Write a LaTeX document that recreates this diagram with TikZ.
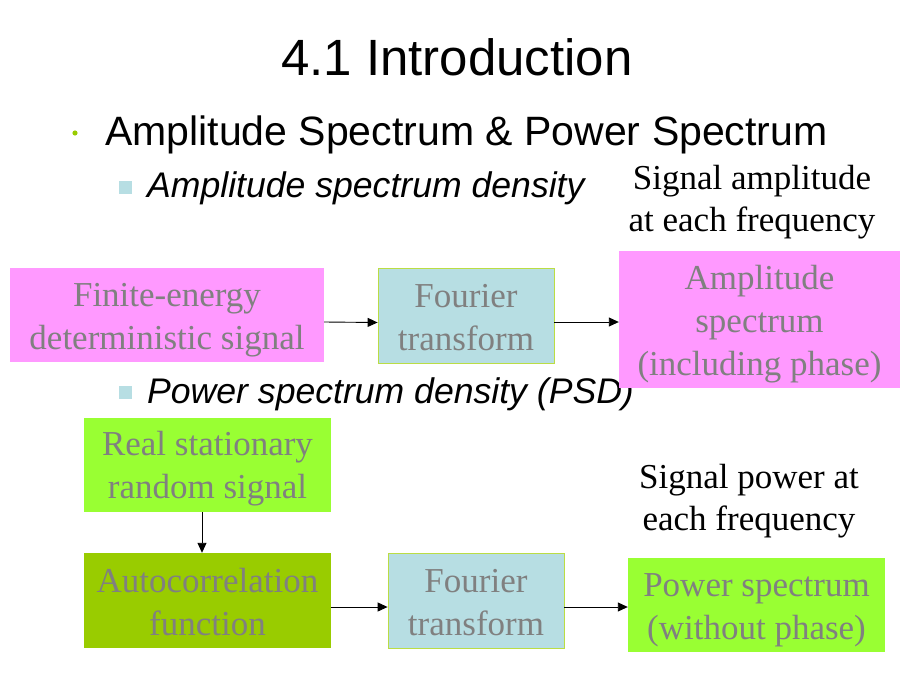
\documentclass[tikz,border=0pt]{standalone}
\usepackage{fontspec}
\setmainfont{Liberation Serif}
\newfontfamily\arialf{Liberation Sans}
\usetikzlibrary{arrows.meta}
\definecolor{pinkbox}{HTML}{FF99FF}
\definecolor{bluebox}{HTML}{B7DEE3}
\definecolor{greenbox}{HTML}{99FF33}
\definecolor{olivebox}{HTML}{99CC00}
\definecolor{boxtext}{HTML}{808080}
\definecolor{blueborder}{HTML}{BBDD44}
\tikzset{
  box/.style={inner sep=0pt},
  boxlabel/.style={inner sep=0pt, align=center, text=boxtext,
    font=\fontsize{35}{43}\selectfont},
  note/.style={inner sep=0pt, align=center, text=black,
    font=\fontsize{35}{42}\selectfont},
  arr/.style={-{Triangle[length=10pt,width=9pt]}, line width=0.9pt, black},
  bodytext/.style={inner sep=0pt, anchor=base west, text=black}
}
\begin{document}
\begin{tikzpicture}[x=1pt,y=-1pt]
\useasboundingbox (0,0) rectangle (920,690);
\fill[white] (0,0) rectangle (920,690);
% title and bullets
\node[inner sep=0pt, anchor=base, font=\arialf\fontsize{51}{60}\selectfont] (title) at (457,76) {4.1 Introduction};
\fill[olivebox] (75,133) circle (2.6);
\node[bodytext, font=\arialf\fontsize{41}{48}\selectfont] (b1t) at (105,146) {Amplitude Spectrum \& Power Spectrum};
\fill[bluebox] (118.5,180.5) rectangle (131.5,193.5);
\node[bodytext, font=\arialf\itshape\fontsize{35.6}{42}\selectfont] (s1t) at (147,197) {Amplitude spectrum density};
\fill[bluebox] (118.5,385.5) rectangle (131.5,398.5);
\node[bodytext, font=\arialf\itshape\fontsize{35.6}{42}\selectfont] (s2t) at (147,403) {Power spectrum density (PSD)};
% notes
\node[note] (n1) at (752,202) {Signal amplitude\\at each frequency};
\node[note] (n2) at (749,501) {Signal power at\\each frequency};
% top row
\node[box, fill=pinkbox, minimum width=314pt, minimum height=94pt] (a1) at (167,315) {};
\node[boxlabel] (a1l) at ([yshift=-5pt]a1.center) {Finite-energy\\deterministic signal};
\node[box, fill=bluebox, draw=blueborder, line width=0.8pt, minimum width=176pt, minimum height=95pt] (a2) at (466,315.5) {};
\node[boxlabel] (a2l) at ([yshift=-2.5pt]a2.center) {Fourier\\transform};
\node[box, fill=pinkbox, minimum width=281pt, minimum height=137pt] (a3) at (759.5,319.5) {};
\node[boxlabel] (a3l) at ([yshift=-5pt]a3.center) {Amplitude\\spectrum\\(including phase)};
\draw[arr] ([yshift=-7pt]a1.east) -- ([yshift=-7pt]a2.west);
\draw[arr] ([yshift=-6.5pt]a2.east) -- ([yshift=-6.5pt]a2.east -| a3.west);
% bottom rows
\node[box, fill=greenbox, minimum width=247pt, minimum height=94pt] (c1) at (207.5,465) {};
\node[boxlabel] (c1l) at ([yshift=-3.5pt]c1.center) {Real stationary\\random signal};
\node[box, fill=olivebox, minimum width=247pt, minimum height=95pt] (c2) at (207.5,600.5) {};
\node[boxlabel] (c2l) at ([yshift=-2pt]c2.center) {Autocorrelation\\function};
\node[box, fill=bluebox, draw=blueborder, line width=0.8pt, minimum width=176pt, minimum height=95pt] (c3) at (476,600.5) {};
\node[boxlabel] (c3l) at ([yshift=-2.5pt]c3.center) {Fourier\\transform};
\node[box, fill=greenbox, minimum width=257pt, minimum height=94pt] (c4) at (756.5,605) {};
\node[boxlabel] (c4l) at ([yshift=-5pt]c4.center) {Power spectrum\\(without phase)};
\draw[arr] ([xshift=-5.5pt]c1.south) -- ([xshift=-5.5pt]c2.north);
\draw[arr] ([yshift=-6.5pt]c2.east) -- ([yshift=-6.5pt]c3.west);
\draw[arr] ([yshift=-6.5pt]c3.east) -- ([yshift=-6.5pt]c3.east -| c4.west);
\end{tikzpicture}
\end{document}
